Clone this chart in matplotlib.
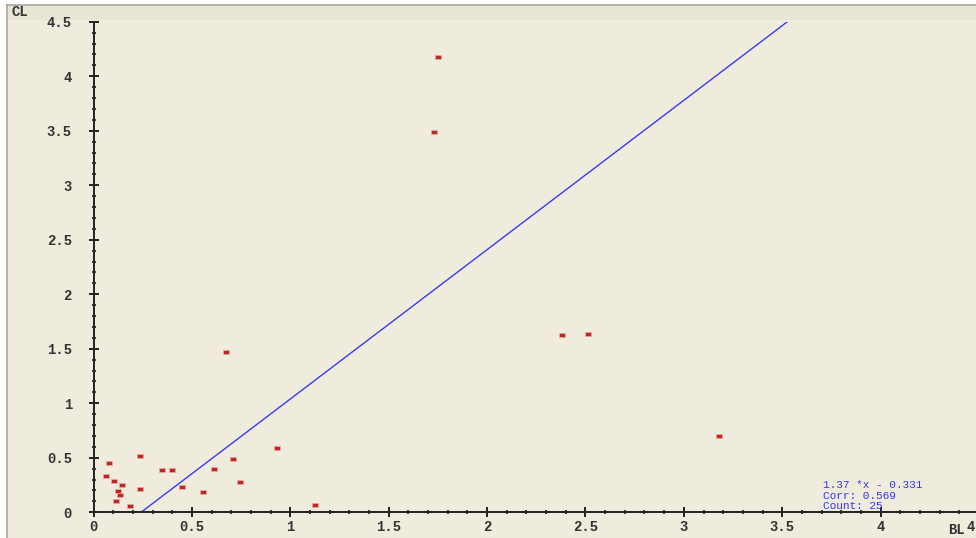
"""
Scatter of CL against BL with the fitted regression line.
"""
import numpy as np
import matplotlib
matplotlib.use("Agg")
import matplotlib.pyplot as plt
from matplotlib.patches import Rectangle
from matplotlib.path import Path
from matplotlib.ticker import MultipleLocator, FuncFormatter

# Data
bl = [0.080, 0.236, 0.062, 0.103, 0.143, 0.123, 0.133, 0.113, 0.184, 0.236,
      0.348, 0.398, 0.451, 0.557, 0.931, 0.707, 0.613, 0.747, 1.126, 0.673,
      1.728, 1.749, 2.383, 2.515, 3.180]
cl = [0.450, 0.514, 0.330, 0.284, 0.248, 0.198, 0.161, 0.104, 0.061, 0.211,
      0.385, 0.391, 0.235, 0.186, 0.593, 0.486, 0.397, 0.278, 0.070, 1.471,
      3.490, 4.180, 1.628, 1.636, 0.700]
slope = 1.37
intercept = -0.331
corr = 0.569

W, H = 976, 538
fig = plt.figure(figsize=(W / 100, H / 100), dpi=100)
fig.patch.set_facecolor('white')

# Window panel behind the chart
panel = '#f0ecdd'
fig.patches.append(Rectangle((7 / W, 0), 1, 1 - 5 / H, transform=fig.transFigure,
                             facecolor=panel, edgecolor='none', zorder=-3))
fig.patches.append(Rectangle((7 / W, 1 - 20 / H), 1, 15 / H, transform=fig.transFigure,
                             facecolor='#e9e5d4', edgecolor='none', zorder=-2))
fig.lines.append(plt.Line2D([7 / W, 1], [1 - 5 / H, 1 - 5 / H], transform=fig.transFigure,
                            color='#a8a8a0', lw=1.2))
fig.lines.append(plt.Line2D([7 / W, 7 / W], [0, 1 - 5 / H], transform=fig.transFigure,
                            color='#a8a8a0', lw=1.2))

# Axes: x 0 at 93.5px, 4.5 at 979px; y 0 at 512.3px, 4.5 at 21.7px
left, right = 93.5 / W, 979 / W
bottom, top = (H - 512.3) / H, (H - 21.7) / H
ax = fig.add_axes([left, bottom, right - left, top - bottom])
ax.set_facecolor('none')
ax.set_xlim(0, 4.5)
ax.set_ylim(0, 4.5)
for s in ('top', 'right'):
    ax.spines[s].set_visible(False)
for s in ('left', 'bottom'):
    ax.spines[s].set_linewidth(1.4)
    ax.spines[s].set_color('#222222')
    ax.spines[s].set_clip_on(False)

font = 'Liberation Mono'
fmt = FuncFormatter(lambda v, p: f"{v:g}")
for axis in (ax.xaxis, ax.yaxis):
    axis.set_major_locator(MultipleLocator(0.5))
    axis.set_minor_locator(MultipleLocator(0.1))
    axis.set_major_formatter(fmt)
ax.tick_params(which='major', direction='inout', length=7, width=1.4, color='#222222',
               labelsize=10, labelcolor='#333333')
ax.tick_params(which='minor', direction='inout', length=3.5, width=1.2, color='#222222')
ax.tick_params(axis='y', which='major', pad=12)
ax.tick_params(axis='x', which='major', pad=2)
for lab in ax.get_xticklabels() + ax.get_yticklabels():
    lab.set_fontfamily(font)
    lab.set_fontweight('bold')
    lab.set_clip_on(False)

# Regression line from y=0 up to the top of the axes
x0 = -intercept / slope
x1 = (4.5 - intercept) / slope
xs = np.array([x0, x1])
ax.plot(xs, slope * xs + intercept, color='#3a3af0', lw=1.0, zorder=2)

# Small flat red markers
rect = Path([(-1, -0.45), (1, -0.45), (1, 0.45), (-1, 0.45), (-1, -0.45)],
            [Path.MOVETO, Path.LINETO, Path.LINETO, Path.LINETO, Path.CLOSEPOLY])
ax.scatter(bl, cl, marker=rect, s=24, facecolor='#c02626', edgecolor='#e4a8a0',
           linewidths=0.6, zorder=3, clip_on=False)

# Axis names
fig.text(12 / W, 1 - 12 / H, 'CL', fontfamily=font, fontsize=10, fontweight='bold',
         color='#333333', ha='left', va='center')
fig.text(948 / W, 1 - 530 / H, 'BL', fontfamily=font, fontsize=10, fontweight='bold',
         color='#333333', ha='left', va='center')

# Fit summary, one line each
stats = [f"{slope:.2f} *x - {abs(intercept):.3f}",
         f"Corr: {corr:.3f}",
         f"Count: {len(bl)}"]
for i, line in enumerate(stats):
    fig.text(823 / W, 1 - (485.5 + 10.2 * i) / H, line, fontfamily=font, fontsize=8,
             color='#3535f5', ha='left', va='center')

fig.savefig('out.png', dpi=100)
